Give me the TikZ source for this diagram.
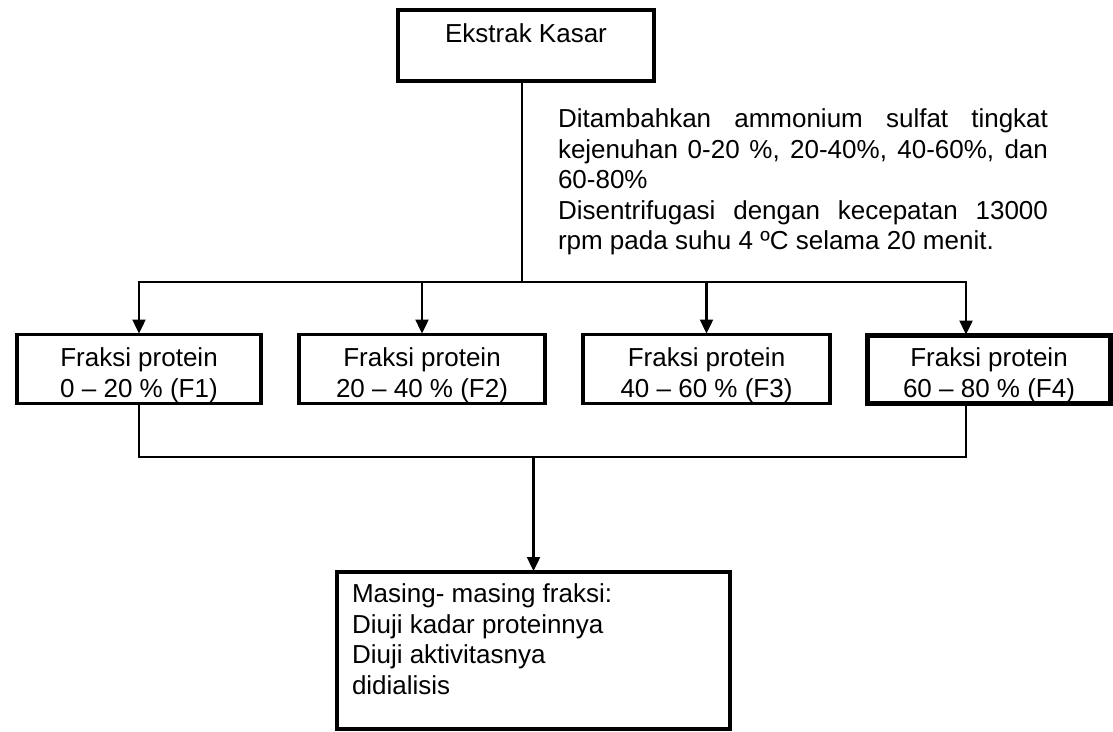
\documentclass[tikz,border=0pt]{standalone}
\usepackage{fontspec}
\setmainfont{Liberation Sans}
\usetikzlibrary{arrows.meta,calc}
\begin{document}
\begin{tikzpicture}[x=1pt,y=-1pt,
  box/.style={draw, line width=3.8pt, inner sep=0pt, outer sep=0pt},
  boxthick/.style={box, line width=5pt},
  txt/.style={inner sep=0pt, outer sep=0pt, font=\fontsize{26}{30.5}\selectfont, text=black},
  conn/.style={line width=2.4pt, line cap=rect},
  arr/.style={line width=2.4pt, -{Triangle[length=14pt,width=13pt]}, shorten >=1pt}]
\useasboundingbox (0,0) rectangle (1113,731);
% top box
\node[box, minimum width=256pt, minimum height=71pt] (ek) at (526,45.5) {};
\node[txt, anchor=base] (ekt) at (526,42) {Ekstrak Kasar};
% description
\node[txt, anchor=north west] (desc) at (558,109) {\parbox[t]{490pt}{\tolerance=10000\hyphenpenalty=10000\exhyphenpenalty=10000\relax
Ditambahkan ammonium sulfat tingkat\linebreak
kejenuhan 0-20 \%, 20-40\%, 40-60\%, dan\linebreak
60-80\%\\
Disentrifugasi dengan kecepatan 13000\linebreak
rpm pada suhu 4 ºC selama 20 menit.}};
% fraction boxes
\node[box, minimum width=244pt, minimum height=69pt] (f1) at (139,369) {};
\node[box, minimum width=246pt, minimum height=69pt] (f2) at (422,369) {};
\node[box, minimum width=247pt, minimum height=69pt] (f3) at (706.5,369) {};
\node[boxthick, minimum width=243pt, minimum height=68pt] (f4) at (989,369.5) {};
\node[txt, anchor=north, align=center] (f1t) at (139,348) {Fraksi protein\\0 -- 20 \% (F1)};
\node[txt, anchor=north, align=center] (f2t) at (422,348) {Fraksi protein\\20 -- 40 \% (F2)};
\node[txt, anchor=north, align=center] (f3t) at (706.5,348) {Fraksi protein\\40 -- 60 \% (F3)};
\node[txt, anchor=north, align=center] (f4t) at (989,348) {Fraksi protein\\60 -- 80 \% (F4)};
% bottom box
\node[box, minimum width=393pt, minimum height=157pt] (mm) at (533.5,650.5) {};
\node[txt, anchor=north west, align=left] (mmt) at (352,584) {Masing- masing fraksi:\\Diuji kadar proteinnya\\Diuji aktivitasnya\\didialisis};
% connectors
\coordinate (sp) at (522,282);
\coordinate (j4) at (966,282);
\coordinate (km) at (533.5,457);
\coordinate (k4) at (966,457);
\draw[conn] (ek.south -| sp) -- (sp);
\draw[conn] (sp -| f1) -- (j4);
\draw[arr] (sp -| f1) -- (f1.north);
\draw[arr] (sp -| f2) -- (f2.north);
\draw[arr] (sp -| f3) -- (f3.north);
\draw[arr] (j4) -- (j4 |- f4.north);
\draw[conn] (f1.south) |- (k4);
\draw[conn] (k4 |- f4.south) -- (k4);
\draw[arr] (km) -- (mm.north);
\end{tikzpicture}
\end{document}
